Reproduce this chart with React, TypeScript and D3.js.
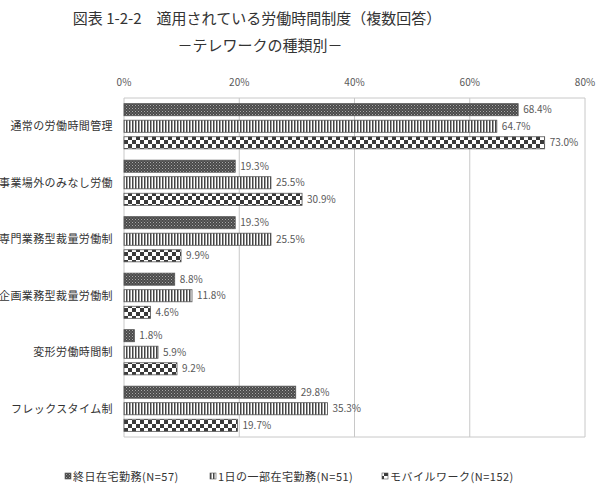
import React from 'react';
import * as d3 from 'd3';

const categories = [
  '通常の労働時間管理',
  '事業場外のみなし労働',
  '専門業務型裁量労働制',
  '企画業務型裁量労働制',
  '変形労働時間制',
  'フレックスタイム制',
];
const seriesNames = ['終日在宅勤務(N=57)', '1日の一部在宅勤務(N=51)', 'モバイルワーク(N=152)'];
const fullDay = [68.4, 19.3, 19.3, 8.8, 1.8, 29.8];
const partDay = [64.7, 25.5, 25.5, 11.8, 5.9, 35.3];
const mobile = [73.0, 30.9, 9.9, 4.6, 9.2, 19.7];
const ticks = [0, 20, 40, 60, 80];

const W = 597;
const H = 495;
const margin = { top: 98, right: 12, bottom: 58, left: 124 };
const font = '"Noto Sans CJK JP", "Noto Sans", sans-serif';

const App = () => {
  const series = [fullDay, partDay, mobile];
  const x = d3.scaleLinear().domain([0, 80]).range([margin.left, W - margin.right]);
  const y = d3
    .scaleBand<string>()
    .domain(categories)
    .range([margin.top, H - margin.bottom])
    .paddingInner(0.2)
    .paddingOuter(0.1);
  const inner = d3
    .scaleBand<number>()
    .domain([0, 1, 2])
    .range([0, y.bandwidth()])
    .paddingInner(0.27);
  const patterns = ['p-dots', 'p-stripes', 'p-check'];
  const legendX = [65, 210, 382];

  return (
    <svg width={W} height={H} style={{ position: 'absolute', left: 0, top: 0, background: '#fff' }}>
      <defs>
        <pattern id="p-dots" width="3" height="3" patternUnits="userSpaceOnUse">
          <rect width="3" height="3" fill="#4a4a4a" />
          <rect x="0" y="0" width="1" height="1" fill="#a8a8a8" />
          <rect x="1.5" y="1.5" width="1" height="1" fill="#8a8a8a" />
        </pattern>
        <pattern id="p-stripes" width="3" height="3" patternUnits="userSpaceOnUse">
          <rect width="3" height="3" fill="#fff" />
          <rect x="0" y="0" width="1.5" height="3" fill="#444" />
        </pattern>
        <pattern id="p-check" width="8" height="8" patternUnits="userSpaceOnUse">
          <rect width="8" height="8" fill="#fff" />
          <rect x="0" y="0" width="4" height="4" fill="#3a3a3a" />
          <rect x="4" y="4" width="4" height="4" fill="#3a3a3a" />
        </pattern>
      </defs>

      <text x={257} y={24} textAnchor="middle" fontFamily={font} fontSize={15} fill="#333">
        図表 1-2-2　適用されている労働時間制度（複数回答）
      </text>
      <text x={260} y={51} textAnchor="middle" fontFamily={font} fontSize={15} fill="#333">
        －テレワークの種類別－
      </text>

      {/* grid */}
      {ticks.map(t => (
        <g key={t}>
          <line x1={x(t)} x2={x(t)} y1={margin.top} y2={H - margin.bottom} stroke="#c8c8c8" strokeWidth={1} />
          <text x={x(t)} y={86} textAnchor="middle" fontFamily={font} fontSize={10} fill="#595959">
            {t}%
          </text>
        </g>
      ))}
      <line x1={margin.left} x2={W - margin.right} y1={margin.top} y2={margin.top} stroke="#c8c8c8" />
      <line x1={margin.left} x2={W - margin.right} y1={H - margin.bottom} y2={H - margin.bottom} stroke="#c8c8c8" />

      {categories.map((c, i) => (
        <g key={c}>
          <text
            x={113}
            y={(y(c) as number) + y.bandwidth() / 2 + 4}
            textAnchor="end"
            fontFamily={font}
            fontSize={11}
            letterSpacing={0.4}
            fill="#333"
          >
            {c}
          </text>
          {series.map((s, j) => {
            const by = (y(c) as number) + (inner(j) as number);
            return (
              <g key={j}>
                <rect
                  x={x(0)}
                  y={by}
                  width={x(s[i]) - x(0)}
                  height={inner.bandwidth()}
                  fill={`url(#${patterns[j]})`}
                  stroke="#555"
                  strokeWidth={0.8}
                />
                <text
                  x={x(s[i]) + 5}
                  y={by + inner.bandwidth() / 2 + 3.5}
                  fontFamily={font}
                  fontSize={10}
                  fill="#595959"
                >
                  {s[i].toFixed(1)}%
                </text>
              </g>
            );
          })}
        </g>
      ))}

      {/* legend */}
      {seriesNames.map((n, j) => (
        <g key={n}>
          <rect x={legendX[j]} y={473} width={6} height={6} fill={`url(#${patterns[j]})`} stroke="#555" strokeWidth={0.6} />
          <text x={legendX[j] + 8} y={481} fontFamily={font} fontSize={11} letterSpacing={0.5} fill="#333">
            {n}
          </text>
        </g>
      ))}
    </svg>
  );
};

export default App;
